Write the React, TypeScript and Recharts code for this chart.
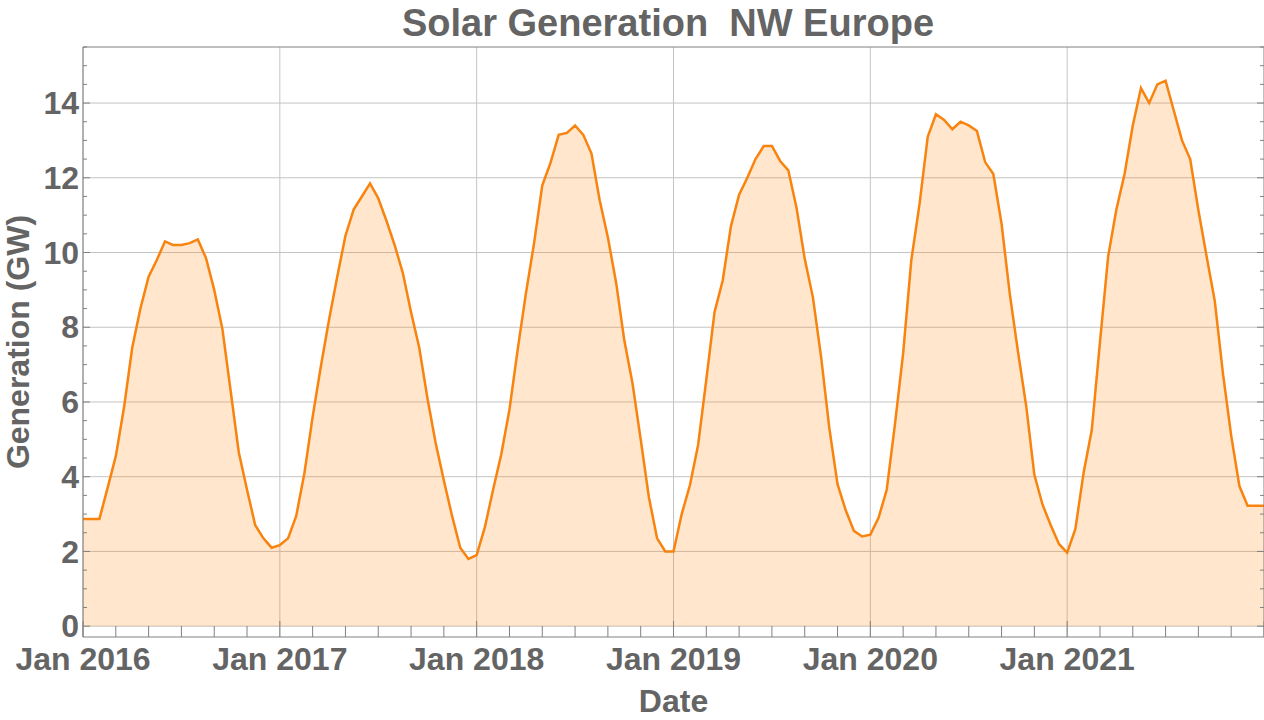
import React from "react"
import { AreaChart, Area, XAxis, YAxis, CartesianGrid, Label } from "recharts"

// half-monthly readings (24 per year), GW
const YEARS = [2016, 2017, 2018, 2019, 2020, 2021]
const STEPS_PER_YEAR = 24

const gw2016 = [2.87, 2.87, 2.87, 3.7, 4.55, 5.85, 7.45, 8.5, 9.35, 9.8, 10.3, 10.2, 10.2, 10.25, 10.35, 9.85, 9.0, 7.95, 6.3, 4.65, 3.65, 2.7, 2.35, 2.1]
const gw2017 = [2.17, 2.35, 2.95, 4.1, 5.6, 6.95, 8.2, 9.35, 10.45, 11.15, 11.5, 11.85, 11.45, 10.85, 10.2, 9.45, 8.4, 7.45, 6.1, 4.9, 3.9, 2.95, 2.1, 1.8]
const gw2018 = [1.9, 2.65, 3.65, 4.6, 5.8, 7.4, 8.9, 10.25, 11.8, 12.4, 13.15, 13.2, 13.4, 13.15, 12.65, 11.4, 10.4, 9.2, 7.65, 6.5, 5.0, 3.45, 2.35, 2.0]
const gw2019 = [2.0, 3.0, 3.77, 4.85, 6.6, 8.4, 9.25, 10.7, 11.55, 12.0, 12.5, 12.85, 12.85, 12.45, 12.2, 11.2, 9.83, 8.8, 7.2, 5.3, 3.8, 3.1, 2.55, 2.4]
const gw2020 = [2.45, 2.9, 3.65, 5.4, 7.3, 9.8, 11.3, 13.1, 13.7, 13.55, 13.3, 13.5, 13.4, 13.25, 12.42, 12.1, 10.77, 8.9, 7.35, 5.9, 4.05, 3.25, 2.7, 2.2]
const gw2021 = [1.97, 2.6, 4.1, 5.25, 7.6, 9.9, 11.15, 12.1, 13.4, 14.4, 14.0, 14.5, 14.6, 13.8, 13.0, 12.5, 11.13, 9.9, 8.7, 6.75, 5.1, 3.75, 3.22, 3.22]
const gwJan2022 = 3.22

const series = [gw2016, gw2017, gw2018, gw2019, gw2020, gw2021]

const data = YEARS.flatMap((yr, j) =>
  series[j].map((gw, k) => ({ t: yr + k / STEPS_PER_YEAR, gw }))
).concat([{ t: 2022, gw: gwJan2022 }])

// minor ticks every two months, labels on January
const xTicks = Array.from({ length: 37 }, (_, m) => 2016 + m / 6)
const yTicks = Array.from({ length: 32 }, (_, i) => i / 2)
const yLabels = [0, 2, 4, 6, 8, 10, 12, 14]

const FRAME = "#808080"
const TEXT = "#646464"
const FONT = "'Liberation Sans', Arial, sans-serif"

const isWhole = (v: number) => Math.abs(v - Math.round(v)) < 1e-6

function BottomTick(props: any) {
  const { x, y, payload } = props
  const v = payload.value
  const major = isWhole(v)
  return (
    <g>
      <line x1={x} x2={x} y1={y} y2={y - (major ? 16 : 11)} stroke={FRAME} strokeWidth={1} />
      {major && v < 2022 && (
        <text x={x} y={y + 33} textAnchor="middle" fontSize={32} fontWeight="bold" fill={TEXT} fontFamily={FONT}>
          {`Jan ${Math.round(v)}`}
        </text>
      )}
    </g>
  )
}

function TopTick(props: any) {
  const { x, y, payload } = props
  const major = isWhole(payload.value)
  return <line x1={x} x2={x} y1={y} y2={y + (major ? 16 : 11)} stroke={FRAME} strokeWidth={1} />
}

function LeftTick(props: any) {
  const { x, y, payload } = props
  const v = payload.value
  const major = isWhole(v) && Math.round(v) % 2 === 0
  return (
    <g>
      <line x1={x} x2={x + (major ? 7 : 4)} y1={y} y2={y} stroke={FRAME} strokeWidth={1} />
      {major && v <= 14 && (
        <text x={x - 4} y={y} dy="0.35em" textAnchor="end" fontSize={32} fontWeight="bold" fill={TEXT} fontFamily={FONT}>
          {Math.round(v)}
        </text>
      )}
    </g>
  )
}

function RightTick(props: any) {
  const { x, y, payload } = props
  const v = payload.value
  const major = isWhole(v) && Math.round(v) % 2 === 0
  return <line x1={x} x2={x - (major ? 7 : 4)} y1={y} y2={y} stroke={FRAME} strokeWidth={1} />
}

const renderXLabel = (props: any) => {
  const vb = props.viewBox
  return (
    <text x={vb.x + vb.width / 2} y={vb.y + 75} textAnchor="middle" fontSize={32} fontWeight="bold" fill={TEXT} fontFamily={FONT}>
      Date
    </text>
  )
}

const renderYLabel = (props: any) => {
  const vb = props.viewBox
  const cx = vb.x + 29
  const cy = vb.y + vb.height / 2
  return (
    <text x={cx} y={cy} transform={`rotate(-90 ${cx} ${cy})`} textAnchor="middle" fontSize={32} fontWeight="bold" fill={TEXT} fontFamily={FONT}>
      Generation (GW)
    </text>
  )
}

export default function App() {
  return (
    <div style={{ position: "absolute", left: 0, top: 0, width: 1264, height: 720, overflow: "hidden", background: "#fff" }}>
      <div
        style={{
          position: "absolute",
          left: 0,
          top: 4,
          width: 1336,
          textAlign: "center",
          fontFamily: FONT,
          fontWeight: "bold",
          fontSize: 38,
          lineHeight: "38px",
          color: TEXT,
          whiteSpace: "pre",
        }}
      >
        {"Solar Generation  NW Europe"}
      </div>
      <AreaChart width={1265} height={720} data={data} margin={{ top: 46, right: 0, bottom: 0, left: 0 }}>
        <CartesianGrid
          stroke="#c4c4c4"
          horizontalValues={yLabels}
          verticalValues={[2016, 2017, 2018, 2019, 2020, 2021]}
        />
        <XAxis
          dataKey="t"
          type="number"
          domain={[2016, 2022]}
          allowDataOverflow
          ticks={xTicks}
          interval={0}
          height={83}
          tickSize={0}
          tickMargin={0}
          tickLine={false}
          axisLine={{ stroke: FRAME }}
          tick={BottomTick}
        >
          <Label content={renderXLabel} />
        </XAxis>
        <XAxis
          xAxisId="top"
          orientation="top"
          type="number"
          domain={[2016, 2022]}
          allowDataOverflow
          ticks={xTicks}
          interval={0}
          height={1}
          tickSize={0}
          tickMargin={0}
          tickLine={false}
          axisLine={{ stroke: FRAME }}
          tick={TopTick}
        />
        <YAxis
          type="number"
          domain={[-0.29, 15.5]}
          allowDataOverflow
          ticks={yTicks}
          interval={0}
          width={83}
          tickSize={0}
          tickMargin={0}
          tickLine={false}
          axisLine={{ stroke: FRAME }}
          tick={LeftTick}
        >
          <Label content={renderYLabel} />
        </YAxis>
        <YAxis
          yAxisId="right"
          orientation="right"
          type="number"
          domain={[-0.29, 15.5]}
          allowDataOverflow
          ticks={yTicks}
          interval={0}
          width={1}
          tickSize={0}
          tickMargin={0}
          tickLine={false}
          axisLine={{ stroke: FRAME }}
          tick={RightTick}
        />
        <Area
          type="linear"
          dataKey="gw"
          baseValue={0}
          stroke="#F8830E"
          strokeWidth={2.5}
          fill="#FF8000"
          fillOpacity={0.2}
          dot={false}
          activeDot={false}
          isAnimationActive={false}
        />
      </AreaChart>
    </div>
  )
}
